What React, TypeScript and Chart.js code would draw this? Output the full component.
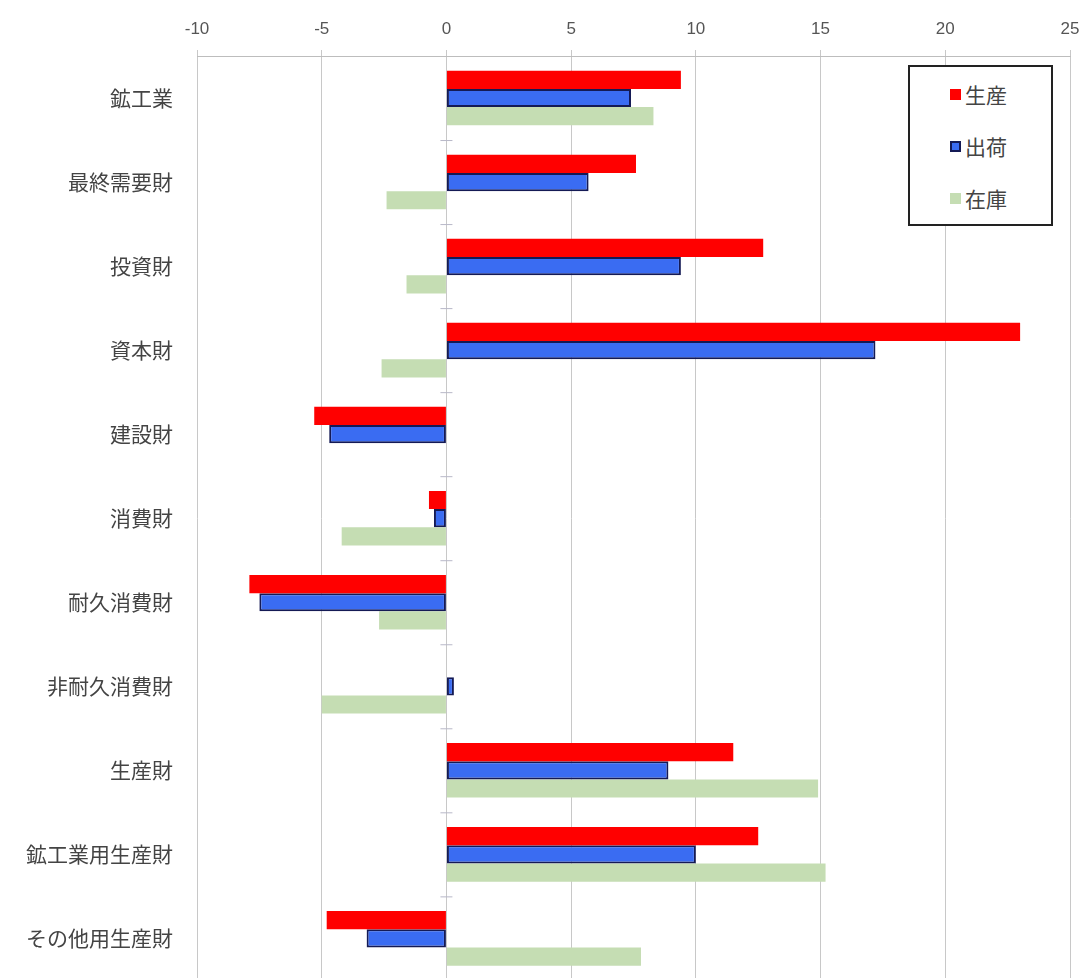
import React, { useEffect, useRef } from "react";
import { Chart, registerables } from "chart.js";

Chart.register(...registerables);

const categories = [
  "鉱工業",
  "最終需要財",
  "投資財",
  "資本財",
  "建設財",
  "消費財",
  "耐久消費財",
  "非耐久消費財",
  "生産財",
  "鉱工業用生産財",
  "その他用生産財",
];

const production = [9.4, 7.6, 12.7, 23.0, -5.3, -0.7, -7.9, 0, 11.5, 12.5, -4.8];
const shipments = [7.4, 5.7, 9.4, 17.2, -4.7, -0.5, -7.5, 0.3, 8.9, 10.0, -3.2];
const inventory = [8.3, -2.4, -1.6, -2.6, 0, -4.2, -2.7, -5.0, 14.9, 15.2, 7.8];

const seriesNames = ["生産", "出荷", "在庫"];
const xTicks = [-10, -5, 0, 5, 10, 15, 20, 25];

const RED = "#ff0000";
const BLUE = "#3a6cf2";
const BLUE_BORDER = "#141a55";
const GREEN = "#c5ddb3";

const zeroTicks = {
  id: "zeroTicks",
  afterDatasetsDraw(chart: any) {
    const x = chart.scales.x;
    const y = chart.scales.y;
    const ctx = chart.ctx;
    const x0 = x.getPixelForValue(0);
    ctx.save();
    ctx.strokeStyle = "#b8b8c8";
    ctx.lineWidth = 1;
    for (let i = 1; i < categories.length; i++) {
      const yp = (y.getPixelForValue(i - 1) + y.getPixelForValue(i)) / 2;
      ctx.beginPath();
      ctx.moveTo(x0 - 6, yp + 0.5);
      ctx.lineTo(x0 + 6, yp + 0.5);
      ctx.stroke();
    }
    ctx.restore();
  },
};

export default function App() {
  const ref = useRef<HTMLCanvasElement | null>(null);

  useEffect(() => {
    document.body.style.margin = "0";
    const canvas = ref.current;
    if (!canvas) return;
    const chart = new Chart(canvas, {
      type: "bar",
      data: {
        labels: categories,
        datasets: [
          {
            label: seriesNames[0],
            data: production,
            backgroundColor: RED,
            borderWidth: 0,
          },
          {
            label: seriesNames[1],
            data: shipments,
            backgroundColor: BLUE,
            borderColor: BLUE_BORDER,
            borderWidth: 2,
            borderSkipped: false,
          },
          {
            label: seriesNames[2],
            data: inventory,
            backgroundColor: GREEN,
            borderWidth: 0,
          },
        ],
      },
      options: {
        indexAxis: "y",
        responsive: false,
        animation: false,
        maintainAspectRatio: false,
        layout: { padding: { left: 0, right: 15, top: 0, bottom: 0 } },
        datasets: {
          bar: { categoryPercentage: 0.65, barPercentage: 1.0 },
        },
        plugins: {
          legend: { display: false },
          tooltip: { enabled: false },
        },
        scales: {
          x: {
            position: "top",
            min: -10,
            max: 25,
            afterBuildTicks(scale: any) {
              scale.ticks = xTicks.map((v) => ({ value: v }));
            },
            afterFit(scale: any) {
              scale.height = 56;
              scale.paddingLeft = 0;
              scale.paddingRight = 0;
            },
            grid: {
              color: "#c8c8c8",
              lineWidth: 1,
              tickLength: 6,
            },
            border: { display: true, color: "#bdbdbd", width: 1 },
            ticks: {
              color: "#555",
              padding: 10,
              font: { family: "'Liberation Sans Narrow', 'Liberation Sans', sans-serif", size: 17 },
            },
          },
          y: {
            afterFit(scale: any) {
              scale.width = 197;
            },
            grid: { display: false },
            border: { display: false },
            ticks: {
              color: "#444",
              padding: 16,
              font: { family: "'Noto Sans CJK JP', sans-serif", size: 21 },
            },
          },
        },
      },
      plugins: [zeroTicks],
    });
    return () => chart.destroy();
  }, []);

  const legendItems = [
    { name: seriesNames[0], color: RED, border: "none" },
    { name: seriesNames[1], color: BLUE, border: `2px solid ${BLUE_BORDER}` },
    { name: seriesNames[2], color: GREEN, border: "none" },
  ];

  return (
    <div style={{ position: "absolute", left: 0, top: 0, width: 1085, height: 978, overflow: "hidden", background: "#fff" }}>
      <canvas ref={ref} width={1085} height={1009} style={{ display: "block" }} />
      <div
        style={{
          position: "absolute",
          left: 908,
          top: 65,
          width: 141,
          height: 157,
          border: "2px solid #222",
          background: "#fff",
          boxSizing: "content-box",
        }}
      >
        {legendItems.map((it, i) => (
          <div
            key={it.name}
            style={{
              position: "absolute",
              left: 40,
              top: 12 + i * 52,
              height: 30,
              display: "flex",
              alignItems: "center",
              fontFamily: "'Noto Sans CJK JP', sans-serif",
              fontSize: 21,
              color: "#444",
            }}
          >
            <span
              style={{
                display: "inline-block",
                width: 11,
                height: 11,
                background: it.color,
                border: it.border,
                boxSizing: "border-box",
                marginRight: 4,
              }}
            />
            {it.name}
          </div>
        ))}
      </div>
    </div>
  );
}
